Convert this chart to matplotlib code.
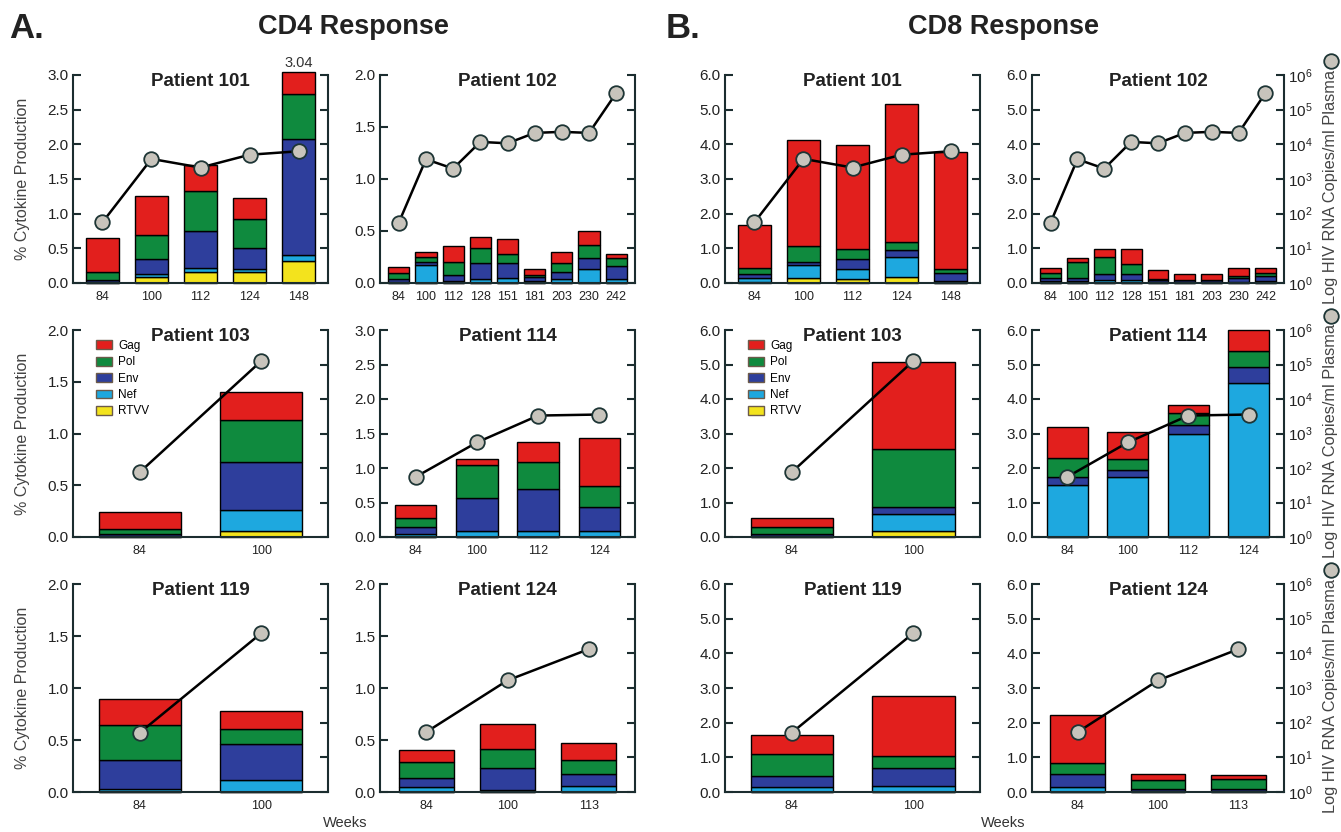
import matplotlib.pyplot as plt
import numpy as np
from matplotlib.lines import Line2D
from matplotlib.patches import Patch
from matplotlib.ticker import NullLocator, FixedLocator

plt.rcParams['font.family'] = ['Liberation Sans', 'DejaVu Sans']

# stacking order, bottom to top
antigens = ["RTVV", "Nef", "Env", "Pol", "Gag"]
colors = {"Gag": "#e21f1d", "Pol": "#0f8a3e", "Env": "#2e3e9c",
          "Nef": "#1ea8df", "RTVV": "#f3e31d"}

weeks_101 = [84, 100, 112, 124, 148]
weeks_102 = [84, 100, 112, 128, 151, 181, 203, 230, 242]
weeks_103 = [84, 100]
weeks_114 = [84, 100, 112, 124]
weeks_119 = [84, 100]
weeks_124 = [84, 100, 113]

# plasma viral load, log10 HIV RNA copies/ml
vl_101 = [1.75, 3.58, 3.33, 3.70, 3.80]
vl_102 = [1.74, 3.57, 3.30, 4.07, 4.03, 4.33, 4.36, 4.33, 5.48]
vl_103 = [1.88, 5.10]
vl_114 = [1.74, 2.74, 3.52, 3.55]
vl_119 = [1.71, 4.58]
vl_124 = [1.73, 3.22, 4.12]

# CD4 % cytokine production per antigen
cd4_101 = {"RTVV": [0, .08, .16, .16, .32], "Nef": [.02, .05, .06, .04, .08],
           "Env": [.03, .21, .53, .30, 1.68], "Pol": [.11, .35, .58, .43, .65],
           "Gag": [.49, .56, .37, .29, .31]}
cd4_102 = {"RTVV": [0] * 9, "Nef": [.01, .17, .02, .04, .05, .02, .04, .13, .04],
           "Env": [.03, .03, .06, .15, .14, .04, .07, .11, .12],
           "Pol": [.06, .05, .12, .15, .09, .02, .08, .13, .08],
           "Gag": [.05, .05, .16, .10, .14, .05, .11, .13, .04]}
cd4_103 = {"RTVV": [0, .06], "Nef": [.01, .20], "Env": [.02, .46],
           "Pol": [.05, .41], "Gag": [.16, .27]}
cd4_114 = {"RTVV": [0, 0, 0, 0], "Nef": [.05, .09, .08, .09], "Env": [.09, .47, .61, .35],
           "Pol": [.14, .48, .39, .30], "Gag": [.19, .09, .30, .70]}
cd4_119 = {"RTVV": [0, 0], "Nef": [.03, .12], "Env": [.28, .34],
           "Pol": [.33, .15], "Gag": [.25, .17]}
cd4_124 = {"RTVV": [0, 0, 0], "Nef": [.05, .02, .06], "Env": [.08, .21, .11],
           "Pol": [.16, .18, .14], "Gag": [.11, .24, .16]}

# CD8 % cytokine production per antigen
cd8_101 = {"RTVV": [.02, .13, .12, .17, 0], "Nef": [.13, .39, .28, .58, .05],
           "Env": [.12, .10, .30, .20, .25], "Pol": [.15, .45, .28, .22, .10],
           "Gag": [1.25, 3.05, 3.00, 3.99, 3.38]}
cd8_102 = {"RTVV": [0] * 9, "Nef": [.05, .05, .08, .08, .03, .02, .02, .04, .05],
           "Env": [.10, .10, .19, .17, .07, .06, .06, .10, .15],
           "Pol": [.13, .47, .48, .30, .02, .01, .02, .06, .10],
           "Gag": [.14, .10, .23, .43, .26, .16, .15, .22, .12]}
cd8_103 = {"RTVV": [0, .17], "Nef": [.03, .50], "Env": [.05, .21],
           "Pol": [.20, 1.67], "Gag": [.28, 2.52]}
cd8_114 = {"RTVV": [0, 0, 0, 0], "Nef": [1.50, 1.75, 3.00, 4.47], "Env": [.25, .20, .25, .46],
           "Pol": [.55, .31, .35, .46], "Gag": [.90, .77, .22, .61]}
cd8_119 = {"RTVV": [0, 0], "Nef": [.15, .18], "Env": [.32, .51],
           "Pol": [.63, .36], "Gag": [.53, 1.73]}
cd8_124 = {"RTVV": [0, 0, 0], "Nef": [.15, .03, .02], "Env": [.36, .07, .08],
           "Pol": [.33, .26, .28], "Gag": [1.37, .16, .10]}

W, H = 1341, 832
fig = plt.figure(figsize=(W / 100, H / 100), dpi=100)
fig.patch.set_facecolor('white')

spine_c = '#1b2d2f'
text_c = '#222222'


def rect(l, r, t, b):
    return [l / W, 1 - b / H, (r - l) / W, (b - t) / H]


def panel(box, weeks, parts, vl, title, ymax, step, fmt, show_right=False, legend=False):
    ax = fig.add_axes(rect(*box))
    n = len(weeks)
    x = np.arange(n)
    margin = {2: 0.55, 3: 0.57, 4: 0.58, 5: 0.6, 9: 0.69}[n]
    bw = 0.78 if n > 5 else 0.68
    bottom = np.zeros(n)
    for name in antigens:
        vals = np.array(parts[name])
        ax.bar(x, vals, bw, bottom=bottom, color=colors[name],
               edgecolor='black', linewidth=1.0, clip_on=False, zorder=2)
        bottom += vals
    ax.set_xlim(-margin, n - 1 + margin)
    ax.set_ylim(0, ymax)
    ticks = np.arange(0, ymax + 1e-9, step)
    ax.set_yticks(ticks)
    ax.set_yticklabels([fmt % t for t in ticks])
    ax.set_xticks(x)
    ax.set_xticklabels([str(w) for w in weeks])
    ax.tick_params(axis='y', direction='in', length=6, width=1.5, labelsize=11,
                   pad=3, colors=spine_c, labelcolor=text_c)
    ax.tick_params(axis='x', length=0, labelsize=9, pad=6, labelcolor=text_c)
    for s in ['top', 'right']:
        ax.spines[s].set_visible(False)
    for s in ['left', 'bottom']:
        ax.spines[s].set_color(spine_c)
        ax.spines[s].set_linewidth(1.5)
    ax.text(0.5, 0.97, title, transform=ax.transAxes, ha='center', va='center',
            fontsize=13.5, fontweight='bold', color=text_c)

    ax2 = ax.twinx()
    ax2.set_yscale('log')
    ax2.set_ylim(1, 1e6)
    ax2.yaxis.set_major_locator(FixedLocator([10.0 ** k for k in range(7)]))
    ax2.yaxis.set_minor_locator(NullLocator())
    ax2.plot(x, 10 ** np.array(vl), '-o', color='black', lw=1.8, ms=10.5,
             mfc='#c8c4bc', mec='#1d3535', mew=1.3, clip_on=False, zorder=3)
    ax2.tick_params(axis='y', direction='in', length=6, width=1.5, labelsize=11,
                    colors=spine_c, labelcolor=text_c, labelright=show_right, pad=3)
    for s in ['top', 'left', 'bottom']:
        ax2.spines[s].set_visible(False)
    ax2.spines['right'].set_color(spine_c)
    ax2.spines['right'].set_linewidth(1.5)

    if legend:
        handles = [Patch(facecolor=colors[a], edgecolor='#6b5a4a', linewidth=1.0, label=a)
                   for a in ["Gag", "Pol", "Env", "Nef", "RTVV"]]
        ax.legend(handles=handles, loc='upper left', bbox_to_anchor=(0.07, 0.975),
                  frameon=False, fontsize=8.5, handlelength=1.36, handleheight=0.76,
                  labelspacing=0.37, handletextpad=0.55, borderaxespad=0)
    return ax, ax2


cd4_cols = [(73, 328), (380, 635)]
cd8_cols = [(725, 980), (1032, 1284)]
rows = [(75, 283), (330, 537), (584, 792)]

cd4_panels = [
    (weeks_101, cd4_101, vl_101, "Patient 101", 3.0),
    (weeks_102, cd4_102, vl_102, "Patient 102", 2.0),
    (weeks_103, cd4_103, vl_103, "Patient 103", 2.0),
    (weeks_114, cd4_114, vl_114, "Patient 114", 3.0),
    (weeks_119, cd4_119, vl_119, "Patient 119", 2.0),
    (weeks_124, cd4_124, vl_124, "Patient 124", 2.0),
]
cd8_panels = [
    (weeks_101, cd8_101, vl_101, "Patient 101"),
    (weeks_102, cd8_102, vl_102, "Patient 102"),
    (weeks_103, cd8_103, vl_103, "Patient 103"),
    (weeks_114, cd8_114, vl_114, "Patient 114"),
    (weeks_119, cd8_119, vl_119, "Patient 119"),
    (weeks_124, cd8_124, vl_124, "Patient 124"),
]

for i, (wk, parts, vl, title, ymax) in enumerate(cd4_panels):
    r, c = divmod(i, 2)
    box = (cd4_cols[c][0], cd4_cols[c][1], rows[r][0], rows[r][1])
    ax, ax2 = panel(box, wk, parts, vl, title, ymax, 0.5, '%.1f', legend=(i == 2))
    if c == 0:
        ax.set_ylabel('% Cytokine Production', fontsize=11.5, color='#444444')
        ax.yaxis.set_label_coords(-0.17, 0.5)
    if i == 0:
        total = sum(parts[a][-1] for a in antigens)
        ax.text(len(wk) - 1, total + 0.03, '%.2f' % total, ha='center', va='bottom',
                fontsize=10.5, color='#333333')

for i, (wk, parts, vl, title) in enumerate(cd8_panels):
    r, c = divmod(i, 2)
    box = (cd8_cols[c][0], cd8_cols[c][1], rows[r][0], rows[r][1])
    ax, ax2 = panel(box, wk, parts, vl, title, 6.0, 1.0, '%.1f',
                    show_right=(c == 1), legend=(i == 2))
    if c == 1:
        yc = (rows[r][0] + rows[r][1]) / 2
        fig.text(1330 / W, 1 - (yc + 8) / H, 'Log HIV RNA Copies/ml Plasma', rotation=90,
                 ha='center', va='center', fontsize=11.8, color='#444444')
        fig.add_artist(Line2D([1331 / W], [1 - (yc - 118) / H], marker='o', ms=10.5,
                              mfc='#c8c4bc', mec='#1d3535', mew=1.3,
                              transform=fig.transFigure))

fig.text(9 / W, 1 - 29 / H, 'A.', fontsize=25, fontweight='bold', va='center', color=text_c)
fig.text(353 / W, 1 - 27 / H, 'CD4 Response', fontsize=19.5, fontweight='bold',
         ha='center', va='center', color=text_c)
fig.text(666 / W, 1 - 29 / H, 'B.', fontsize=25, fontweight='bold', va='center', color=text_c)
fig.text(1004 / W, 1 - 27 / H, 'CD8 Response', fontsize=19.5, fontweight='bold',
         ha='center', va='center', color=text_c)
fig.text(345 / W, 1 - 823 / H, 'Weeks', fontsize=10.5, ha='center', va='center', color='#333333')
fig.text(1003 / W, 1 - 823 / H, 'Weeks', fontsize=10.5, ha='center', va='center', color='#333333')

fig.savefig('out.png', dpi=100)
